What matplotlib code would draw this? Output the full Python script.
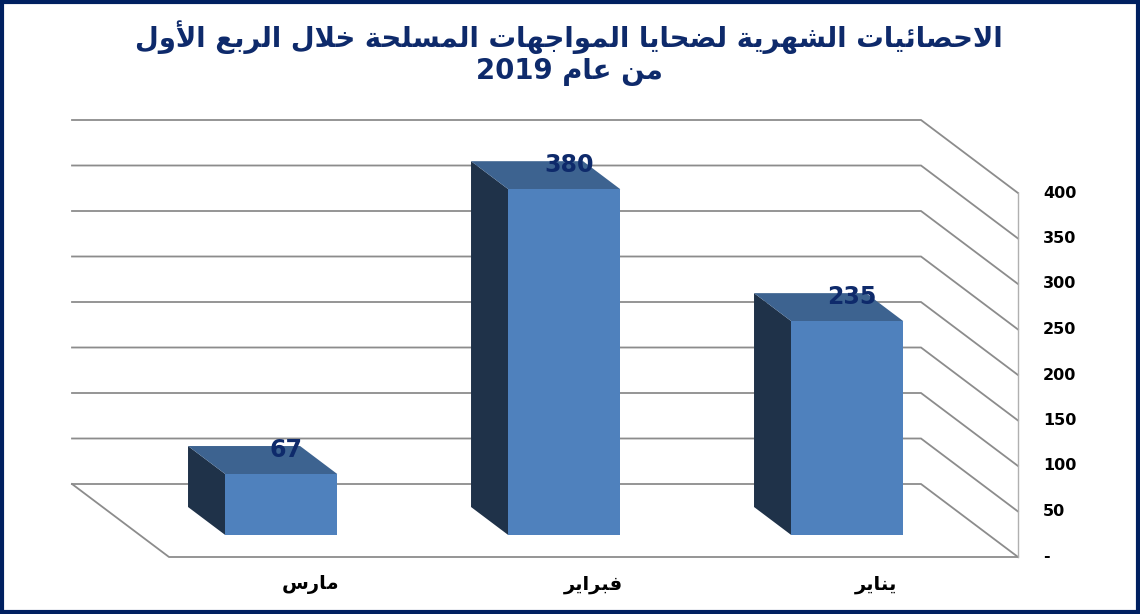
import re
import matplotlib
matplotlib.use("Agg")
import matplotlib.pyplot as plt
from matplotlib.patches import Polygon, Rectangle

# ---------------- data ----------------
months = ["يناير", "فبراير", "مارس"]          # logical order (Jan, Feb, Mar)
victims = [235, 380, 67]
yticks = [0, 50, 100, 150, 200, 250, 300, 350, 400]
ytick_labels = ["-", "50", "100", "150", "200", "250", "300", "350", "400"]
title_line1 = "الاحصائيات الشهرية لضحايا المواجهات المسلحة خلال الربع الأول"
title_line2 = "من عام 2019"

# ---------------- simple Arabic shaping ----------------
FORMS = {
    '\u0627': (0xFE8D, 0xFE8E), '\u0623': (0xFE83, 0xFE84), '\u0625': (0xFE87, 0xFE88),
    '\u0622': (0xFE81, 0xFE82), '\u0628': (0xFE8F, 0xFE90, 0xFE91, 0xFE92),
    '\u0629': (0xFE93, 0xFE94), '\u062A': (0xFE95, 0xFE96, 0xFE97, 0xFE98),
    '\u062B': (0xFE99, 0xFE9A, 0xFE9B, 0xFE9C), '\u062C': (0xFE9D, 0xFE9E, 0xFE9F, 0xFEA0),
    '\u062D': (0xFEA1, 0xFEA2, 0xFEA3, 0xFEA4), '\u062E': (0xFEA5, 0xFEA6, 0xFEA7, 0xFEA8),
    '\u062F': (0xFEA9, 0xFEAA), '\u0630': (0xFEAB, 0xFEAC), '\u0631': (0xFEAD, 0xFEAE),
    '\u0632': (0xFEAF, 0xFEB0), '\u0633': (0xFEB1, 0xFEB2, 0xFEB3, 0xFEB4),
    '\u0634': (0xFEB5, 0xFEB6, 0xFEB7, 0xFEB8), '\u0635': (0xFEB9, 0xFEBA, 0xFEBB, 0xFEBC),
    '\u0636': (0xFEBD, 0xFEBE, 0xFEBF, 0xFEC0), '\u0637': (0xFEC1, 0xFEC2, 0xFEC3, 0xFEC4),
    '\u0638': (0xFEC5, 0xFEC6, 0xFEC7, 0xFEC8), '\u0639': (0xFEC9, 0xFECA, 0xFECB, 0xFECC),
    '\u063A': (0xFECD, 0xFECE, 0xFECF, 0xFED0), '\u0641': (0xFED1, 0xFED2, 0xFED3, 0xFED4),
    '\u0642': (0xFED5, 0xFED6, 0xFED7, 0xFED8), '\u0643': (0xFED9, 0xFEDA, 0xFEDB, 0xFEDC),
    '\u0644': (0xFEDD, 0xFEDE, 0xFEDF, 0xFEE0), '\u0645': (0xFEE1, 0xFEE2, 0xFEE3, 0xFEE4),
    '\u0646': (0xFEE5, 0xFEE6, 0xFEE7, 0xFEE8), '\u0647': (0xFEE9, 0xFEEA, 0xFEEB, 0xFEEC),
    '\u0648': (0xFEED, 0xFEEE), '\u0649': (0xFEEF, 0xFEF0),
    '\u064A': (0xFEF1, 0xFEF2, 0xFEF3, 0xFEF4), '\u0626': (0xFE89, 0xFE8A, 0xFE8B, 0xFE8C),
    '\u0624': (0xFE85, 0xFE86),
}
LAMALEF = {'\u0627': (0xFEFB, 0xFEFC), '\u0623': (0xFEF7, 0xFEF8),
           '\u0625': (0xFEF9, 0xFEFA), '\u0622': (0xFEF5, 0xFEF6)}


def shape(text):
    out = []
    i = 0
    n = len(text)
    while i < n:
        ch = text[i]
        if ch not in FORMS:
            out.append(ch)
            i += 1
            continue
        prev = text[i - 1] if i > 0 else ''
        prev_joins = prev in FORMS and len(FORMS[prev]) == 4
        nxt = text[i + 1] if i + 1 < n else ''
        if ch == '\u0644' and nxt in LAMALEF:
            iso, fin = LAMALEF[nxt]
            out.append(chr(fin if prev_joins else iso))
            i += 2
            continue
        f = FORMS[ch]
        next_joins = len(f) == 4 and nxt in FORMS
        if prev_joins and next_joins:
            c = f[3]
        elif prev_joins:
            c = f[1]
        elif next_joins:
            c = f[2]
        else:
            c = f[0]
        out.append(chr(c))
        i += 1
    vis = ''.join(out)[::-1]
    vis = re.sub(r'[0-9]+', lambda m: m.group(0)[::-1], vis)
    return vis


# ---------------- layout ----------------
W, H = 1140, 614
fig = plt.figure(figsize=(W / 100, H / 100), dpi=100)
fig.patch.set_facecolor('white')
x0p, x1p, y0p, y1p = 169, 1018, 557, 193     # front plane pixel box
ax = fig.add_axes([x0p / W, 1 - y0p / H, (x1p - x0p) / W, (y0p - y1p) / H])
ax.set_xlim(-0.5, 2.5)
ax.set_ylim(0, 400)
ax.axis('off')

px_per_cat = (x1p - x0p) / 3.0
px_per_val = (y0p - y1p) / 400.0
DX = -97 / px_per_cat     # full floor depth, in category units
DY = 73 / px_per_val      # full floor depth, in value units


def P(pos, val, depth):
    return (pos + DX * depth, val + DY * depth)


grid_col = '#8c8c8c'
# gridlines on back wall + right side wall
for v in yticks:
    pts = [P(-0.5, v, 1), P(2.5, v, 1), P(2.5, v, 0)]
    ax.plot([p[0] for p in pts], [p[1] for p in pts], color=grid_col, lw=1.3,
            clip_on=False, zorder=1, solid_joinstyle='miter')
# floor edges
pts = [P(-0.5, 0, 1), P(-0.5, 0, 0), P(2.5, 0, 0)]
ax.plot([p[0] for p in pts], [p[1] for p in pts], color=grid_col, lw=1.3,
        clip_on=False, zorder=1)
# vertical front-right axis line
ax.plot([2.5, 2.5], [0, 400], color='#b0b0b0', lw=1.0, clip_on=False, zorder=1)

# bars
hw = 0.198
d0, d1 = 0.301, 0.685
c_front, c_top, c_side = '#4F81BD', '#3D6390', '#1F3249'
label_col = '#0E2A6B'
ncat = len(months)
for i, (m, v) in enumerate(zip(months, victims)):
    c = ncat - 1 - i       # right-to-left order
    side = [P(c - hw, 0, d0), P(c - hw, v, d0), P(c - hw, v, d1), P(c - hw, 0, d1)]
    top = [P(c - hw, v, d0), P(c + hw, v, d0), P(c + hw, v, d1), P(c - hw, v, d1)]
    front = [P(c - hw, 0, d0), P(c + hw, 0, d0), P(c + hw, v, d0), P(c - hw, v, d0)]
    ax.add_patch(Polygon(side, closed=True, fc=c_side, ec='none', zorder=3, clip_on=False))
    ax.add_patch(Polygon(top, closed=True, fc=c_top, ec='none', zorder=3, clip_on=False))
    ax.add_patch(Polygon(front, closed=True, fc=c_front, ec='none', zorder=4, clip_on=False))
    lx, ly = P(c, v, d1)
    ax.text(c + DX * d0 + 5 / px_per_cat, ly - 4 / px_per_val, str(v), ha='center', va='center',
            fontsize=17, fontweight='bold', color=label_col, zorder=6, clip_on=False)
    ax.text(c, -28 / px_per_val, shape(m), ha='center', va='center', fontsize=14,
            fontweight='bold', color='black', clip_on=False, family='DejaVu Sans')

# value axis labels at right
for v, lab in zip(yticks, ytick_labels):
    ax.text(2.5 + 25 / px_per_cat, v, lab, ha='left', va='center', fontsize=11.5,
            fontweight='bold', color='black', clip_on=False)

# title
fig.text(569 / W, 1 - 37 / H, shape(title_line1), ha='center', va='center', fontsize=19.8,
         fontweight='bold', color=label_col, family='DejaVu Sans')
fig.text(569 / W, 1 - 72 / H, shape(title_line2), ha='center', va='center', fontsize=19.8,
         fontweight='bold', color=label_col, family='DejaVu Sans')

# outer border
fig.patches.append(Rectangle((0.0015, 0.0025), 0.997, 0.995, transform=fig.transFigure,
                             fill=False, ec='#002060', lw=3))

fig.savefig('out.png', dpi=100, facecolor='white')
